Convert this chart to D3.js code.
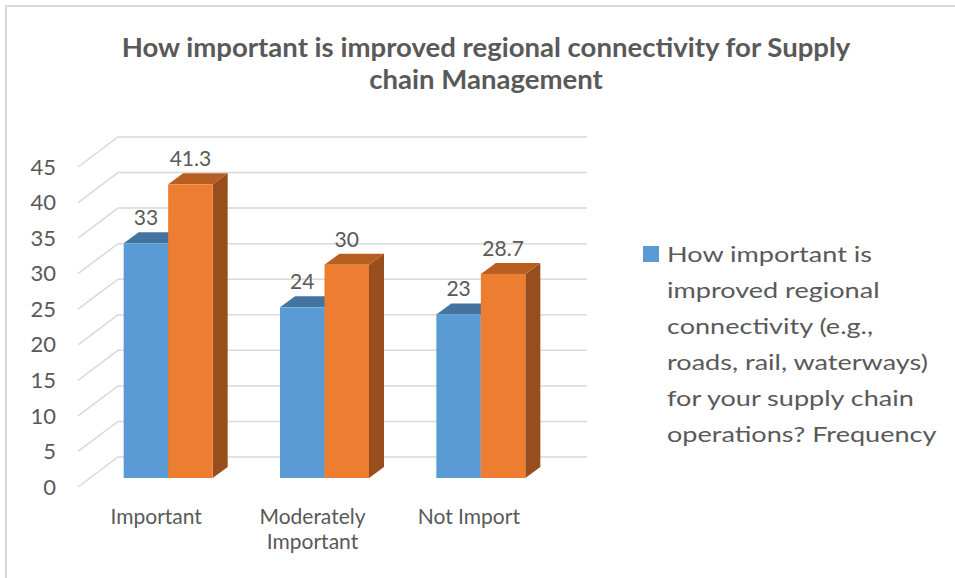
<!DOCTYPE html>
<html>
<head>
<meta charset="utf-8">
<script src="https://cdn.jsdelivr.net/npm/d3@7"></script>
<style>
  body { margin: 0; background: #fff; }
  svg text { font-family: Lato, "Open Sans", sans-serif; fill: #595959; }
</style>
</head>
<body>
<svg id="chart" width="955" height="578"></svg>
<script>
// data
var categories = ["Important", "Moderately Important", "Not Import"];
var seriesBlue = [33, 24, 23];
var seriesOrange = [41.3, 30, 28.7];
var yTicks = [0, 5, 10, 15, 20, 25, 30, 35, 40, 45];
var titleLines = ["How important is improved regional connectivity for Supply", "chain Management"];
var legendLines = ["How important is", "improved regional", "connectivity (e.g.,", "roads, rail, waterways)", "for your supply chain", "operations? Frequency"];

var svg = d3.select("#chart");

// 3D layout: front floor edge and back wall offset
var wallDx = 40, wallDy = -30;
var barShiftX = 12, barShiftY = -9;   // bars sit a bit into the depth
var sideDx = 15, sideDy = -11;        // bar depth

var x = d3.scaleBand().domain(categories).range([78, 547]);
var y = d3.scaleLinear().domain([0, 45]).range([487, 167]);
var xs = d3.scaleBand().domain(["blue", "orange"]).range([-44.5, 44.5]);

// frame (top and left edge only are visible)
svg.append("path")
  .attr("d", "M6,578 L6,6 L955,6")
  .attr("fill", "none")
  .attr("stroke", "#D9D9D9")
  .attr("stroke-width", 2);

// title (source text is a bit wider than Lato, so stretch it a little)
svg.append("g")
  .attr("transform", "translate(486,0) scale(1.06,1)")
  .selectAll("text").data(titleLines).enter()
  .append("text")
  .attr("x", 0)
  .attr("y", function(d, i) { return 57 + i * 32; })
  .attr("text-anchor", "middle")
  .style("font-size", "26px")
  .style("font-weight", "bold")
  .text(function(d) { return d; });

// gridlines: diagonal on the side wall, then across the back wall
var x0 = x.range()[0], x1 = x.range()[1];
svg.append("g").selectAll("path").data(yTicks).enter()
  .append("path")
  .attr("d", function(t) {
    return "M" + x0 + "," + y(t) + " L" + (x0 + wallDx) + "," + (y(t) + wallDy) +
           " L" + (x1 + wallDx) + "," + (y(t) + wallDy);
  })
  .attr("fill", "none")
  .attr("stroke", "#D9D9D9")
  .attr("stroke-width", 1.5);

// y labels
svg.append("g").selectAll("text").data(yTicks).enter()
  .append("text")
  .attr("x", 56)
  .attr("y", function(t) { return y(t); })
  .attr("dy", "0.35em")
  .attr("text-anchor", "end")
  .style("font-size", "22px")
  .text(function(t) { return t; });

// bars
var colors = {
  blue:   { front: "#5B9BD5", top: "#4373A0", side: "#3A6690" },
  orange: { front: "#ED7D31", top: "#B95E21", side: "#974D1C" }
};
var bars = [];
categories.forEach(function(c, i) {
  bars.push({ cat: c, key: "blue", value: seriesBlue[i] });
  bars.push({ cat: c, key: "orange", value: seriesOrange[i] });
});

var gBars = svg.append("g");
bars.forEach(function(d) {
  var left = x(d.cat) + x.bandwidth() / 2 + barShiftX + xs(d.key);
  var right = left + xs.bandwidth();
  var top = y(d.value) + barShiftY;
  var bottom = y(0) + barShiftY;
  var col = colors[d.key];
  var g = gBars.append("g");
  g.append("path")
    .attr("d", "M" + right + "," + bottom + " L" + (right + sideDx) + "," + (bottom + sideDy) +
               " L" + (right + sideDx) + "," + (top + sideDy) + " L" + right + "," + top + "Z")
    .attr("fill", col.side);
  g.append("path")
    .attr("d", "M" + left + "," + top + " L" + (left + sideDx) + "," + (top + sideDy) +
               " L" + (right + sideDx) + "," + (top + sideDy) + " L" + right + "," + top + "Z")
    .attr("fill", col.top);
  g.append("rect")
    .attr("x", left)
    .attr("y", top)
    .attr("width", xs.bandwidth())
    .attr("height", bottom - top)
    .attr("fill", col.front);
  g.append("text")
    .attr("x", (left + right) / 2)
    .attr("y", top - 18)
    .attr("text-anchor", "middle")
    .style("font-size", "21px")
    .text(d.value);
});

// category labels, wrapped to the band width
var gX = svg.append("g");
categories.forEach(function(c) {
  var cx = x(c) + x.bandwidth() / 2;
  var t = gX.append("text")
    .attr("x", cx)
    .attr("y", 524)
    .attr("text-anchor", "middle")
    .style("font-size", "21px");
  var words = c.split(" "), line = [];
  var tspan = t.append("tspan").attr("x", cx);
  words.forEach(function(w) {
    line.push(w);
    tspan.text(line.join(" "));
    if (tspan.node().getComputedTextLength() > x.bandwidth() * 0.8 && line.length > 1) {
      line.pop();
      tspan.text(line.join(" "));
      line = [w];
      tspan = t.append("tspan").attr("x", cx).attr("dy", 25).text(w);
    }
  });
});

// legend (blue series only)
var gLeg = svg.append("g");
gLeg.append("rect")
  .attr("x", 643).attr("y", 246)
  .attr("width", 16).attr("height", 16)
  .attr("fill", colors.blue.front);
gLeg.append("g")
  .attr("transform", "translate(667,0) scale(1.23,1)")
  .selectAll("text").data(legendLines).enter()
  .append("text")
  .attr("x", 0)
  .attr("y", function(d, i) { return 262 + i * 36; })
  .style("font-size", "22px")
  .text(function(d) { return d; });
</script>
</body>
</html>
